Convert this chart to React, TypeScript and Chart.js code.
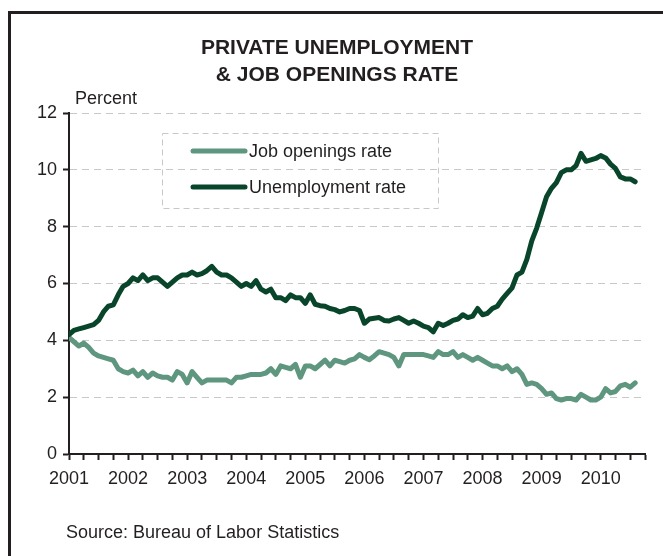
import React, { useEffect, useRef } from "react";
import { Chart, registerables } from "chart.js";

Chart.register(...registerables);

// Monthly values, Jan 2001 .. Aug 2010
const START_YEAR = 2001;
const YEAR_LABELS = ["2001", "2002", "2003", "2004", "2005", "2006", "2007", "2008", "2009", "2010"];
const Y_TICKS = [0, 2, 4, 6, 8, 10, 12];

const UNEMPLOYMENT = [
  4.2, 4.35, 4.4, 4.45, 4.5, 4.55, 4.7, 5.0, 5.2, 5.25,
  5.6, 5.9, 6.0, 6.2, 6.1, 6.3, 6.1, 6.2, 6.2, 6.05,
  5.9, 6.05, 6.2, 6.3, 6.3, 6.4, 6.3, 6.35, 6.45, 6.6,
  6.4, 6.3, 6.3, 6.2, 6.05, 5.9, 6.0, 5.9, 6.1, 5.8,
  5.7, 5.8, 5.5, 5.5, 5.4, 5.6, 5.5, 5.5, 5.3, 5.6,
  5.27, 5.22, 5.2, 5.12, 5.08, 5.0, 5.05, 5.12, 5.12, 5.05,
  4.6, 4.75, 4.78, 4.8, 4.7, 4.68, 4.75, 4.8, 4.7, 4.6,
  4.68, 4.6, 4.5, 4.45, 4.3, 4.6, 4.52, 4.6, 4.7, 4.75,
  4.9, 4.8, 4.85, 5.12, 4.9, 4.95, 5.12, 5.2, 5.45, 5.65,
  5.85, 6.3, 6.4, 6.85, 7.5, 7.95, 8.5, 9.05, 9.35, 9.55,
  9.9, 10.0, 10.0, 10.15, 10.58, 10.3, 10.35, 10.4, 10.5, 10.42,
  10.2, 10.05, 9.75, 9.68, 9.68, 9.58,
];

const JOB_OPENINGS = [
  4.1, 3.95, 3.8, 3.9, 3.75, 3.55, 3.45, 3.4, 3.35, 3.3,
  3.0, 2.9, 2.85, 2.95, 2.75, 2.9, 2.7, 2.85, 2.75, 2.7,
  2.7, 2.6, 2.9, 2.8, 2.5, 2.9, 2.7, 2.5, 2.6, 2.6,
  2.6, 2.6, 2.6, 2.5, 2.7, 2.7, 2.75, 2.8, 2.8, 2.8,
  2.85, 3.0, 2.8, 3.1, 3.05, 3.0, 3.15, 2.7, 3.1, 3.1,
  3.0, 3.15, 3.3, 3.1, 3.3, 3.25, 3.2, 3.3, 3.35, 3.5,
  3.4, 3.32, 3.45, 3.6, 3.55, 3.5, 3.4, 3.1, 3.5, 3.5,
  3.5, 3.5, 3.5, 3.45, 3.4, 3.6, 3.5, 3.5, 3.6, 3.4,
  3.5, 3.4, 3.3, 3.4, 3.3, 3.2, 3.1, 3.1, 3.0, 3.1,
  2.9, 3.0, 2.8, 2.45, 2.5, 2.45, 2.3, 2.1, 2.15, 1.95,
  1.9, 1.95, 1.95, 1.9, 2.1, 2.0, 1.9, 1.9, 2.0, 2.3,
  2.15, 2.2, 2.4, 2.45, 2.35, 2.5,
];

const SERIES_NAMES = ["Job openings rate", "Unemployment rate"];
const TITLE_LINES = ["PRIVATE UNEMPLOYMENT", "& JOB OPENINGS RATE"];
const Y_UNIT = "Percent";
const SOURCE = "Source: Bureau of Labor Statistics";

const X_MAX_MONTH = 117; // Oct 2010 (end of axis)

const C_JOB = "#5f967f";
const C_UNEMP = "#08452a";
const C_TEXT = "#231f20";
const FONT = "'Liberation Sans', Arial, Helvetica, sans-serif";

const toPoints = (arr: number[]) => arr.map((v, i) => ({ x: i, y: v }));

const decorPlugin = {
  id: "decor",
  afterDraw(chart: any) {
    const ctx = chart.ctx as CanvasRenderingContext2D;
    ctx.save();
    // frame (top + left)
    ctx.strokeStyle = C_TEXT;
    ctx.lineWidth = 3;
    ctx.setLineDash([]);
    ctx.beginPath();
    ctx.moveTo(9.5, 560);
    ctx.lineTo(9.5, 12.5);
    ctx.lineTo(670, 12.5);
    ctx.stroke();

    // title
    ctx.fillStyle = C_TEXT;
    ctx.textAlign = "center";
    ctx.textBaseline = "middle";
    ctx.font = `bold 21px ${FONT}`;
    ctx.fillText(TITLE_LINES[0], 337, 48);
    ctx.fillText(TITLE_LINES[1], 337, 75);

    // y unit
    ctx.textAlign = "left";
    ctx.font = `18px ${FONT}`;
    ctx.fillText(Y_UNIT, 75, 99);

    // source
    ctx.fillText(SOURCE, 66, 533);

    // legend
    ctx.strokeStyle = "#c8c8c8";
    ctx.lineWidth = 1;
    ctx.setLineDash([6, 4]);
    ctx.strokeRect(162.5, 133.5, 276, 75);
    ctx.setLineDash([]);
    const items = [
      { name: SERIES_NAMES[0], color: C_JOB, y: 151 },
      { name: SERIES_NAMES[1], color: C_UNEMP, y: 187 },
    ];
    for (const it of items) {
      ctx.strokeStyle = it.color;
      ctx.lineWidth = 5;
      ctx.lineCap = "round";
      ctx.beginPath();
      ctx.moveTo(193, it.y);
      ctx.lineTo(245, it.y);
      ctx.stroke();
      ctx.fillStyle = C_TEXT;
      ctx.font = `18px ${FONT}`;
      ctx.fillText(it.name, 249, it.y + 1);
    }
    ctx.restore();
  },
};

export default function App() {
  const ref = useRef<HTMLCanvasElement | null>(null);

  useEffect(() => {
    if (!ref.current) return;
    const chart = new Chart(ref.current, {
      type: "line",
      data: {
        datasets: [
          {
            label: SERIES_NAMES[1],
            data: toPoints(UNEMPLOYMENT),
            borderColor: C_UNEMP,
            backgroundColor: C_UNEMP,
            borderWidth: 5,
            pointRadius: 0,
            tension: 0,
            borderJoinStyle: "round",
            borderCapStyle: "round",
            order: 0,
          },
          {
            label: SERIES_NAMES[0],
            data: toPoints(JOB_OPENINGS),
            borderColor: C_JOB,
            backgroundColor: C_JOB,
            borderWidth: 5,
            pointRadius: 0,
            tension: 0,
            borderJoinStyle: "round",
            borderCapStyle: "round",
            order: 1,
          },
        ],
      },
      options: {
        responsive: false,
        animation: false,
        layout: { padding: { left: 0, right: 18, top: 113, bottom: 72 } },
        plugins: {
          legend: { display: false },
          title: { display: false },
          tooltip: { enabled: false },
        },
        scales: {
          x: {
            type: "linear",
            min: 0,
            max: X_MAX_MONTH,
            afterFit: (s: any) => {
              s.height = 30;
            },
            border: { display: true, color: C_TEXT, width: 2 },
            grid: {
              drawOnChartArea: false,
              drawTicks: true,
              tickLength: 6,
              tickColor: C_TEXT,
              tickWidth: 2,
            },
            ticks: {
              stepSize: 3,
              autoSkip: false,
              maxRotation: 0,
              padding: 8,
              color: C_TEXT,
              font: { family: FONT, size: 18 },
              callback: (v: any) => {
                const n = Number(v);
                if (n % 12 === 0) return YEAR_LABELS[n / 12] ?? String(START_YEAR + n / 12);
                return "";
              },
            },
          },
          y: {
            min: Y_TICKS[0],
            max: Y_TICKS[Y_TICKS.length - 1],
            afterFit: (s: any) => {
              s.width = 69;
            },
            border: { display: true, color: C_TEXT, width: 2, dash: [7, 5] },
            grid: {
              color: "#c8c8c8",
              lineWidth: 1,
              tickBorderDash: [],
              tickColor: C_TEXT,
              tickWidth: 2,
              tickLength: 6,
              drawTicks: true,
            },
            ticks: {
              stepSize: 2,
              padding: 6,
              color: C_TEXT,
              font: { family: FONT, size: 18 },
            },
          },
        },
      },
      plugins: [decorPlugin],
    });
    return () => chart.destroy();
  }, []);

  return (
    <div style={{ position: "absolute", left: 0, top: 0, width: 663, height: 556, background: "#fff" }}>
      <canvas ref={ref} width={663} height={556} style={{ display: "block" }} />
    </div>
  );
}
